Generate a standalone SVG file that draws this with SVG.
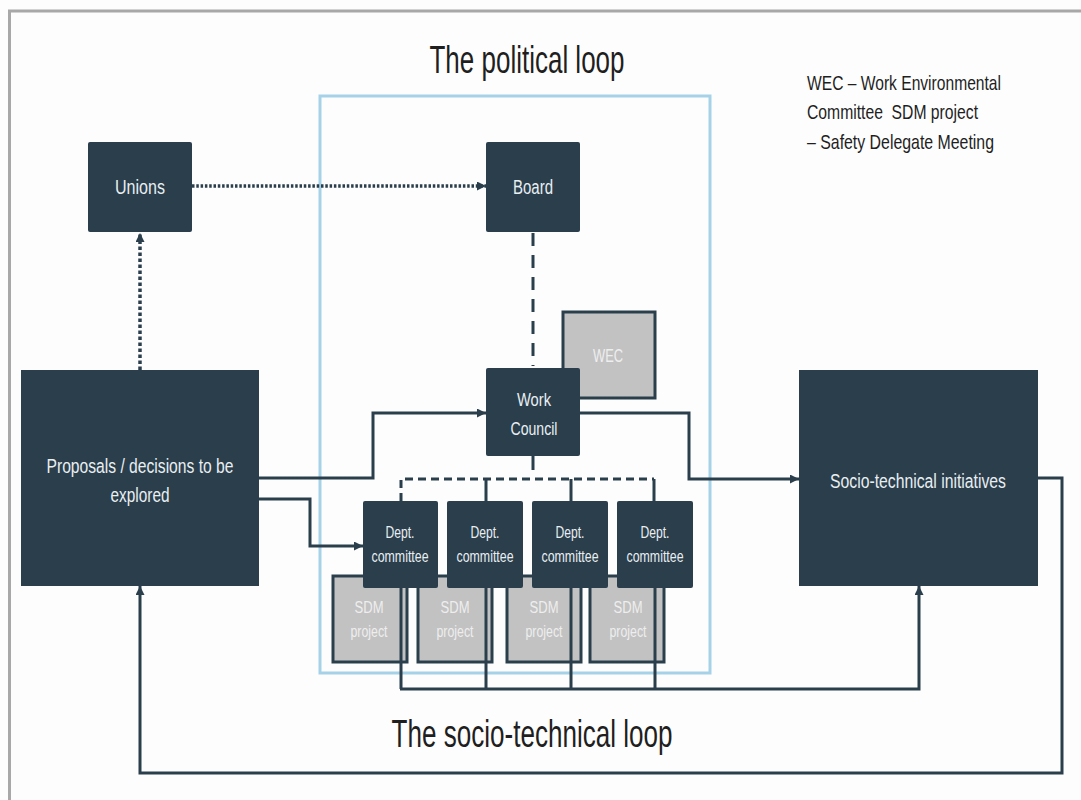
<svg xmlns="http://www.w3.org/2000/svg" width="1081" height="800" viewBox="0 0 1081 800">
  <defs>
    <style>
      .box { fill: #2a3e4c; }
      .sub { fill: #c2c2c2; stroke: #2a3e4c; stroke-width: 3; }
      .lbl { font-family: "Liberation Sans Narrow", "Liberation Sans", Arial, sans-serif; fill: #e9eef1; text-anchor: middle; }
      .lblg { font-family: "Liberation Sans Narrow", "Liberation Sans", Arial, sans-serif; fill: #eeeeee; text-anchor: middle; }
      .title { font-family: "Liberation Sans Narrow", "Liberation Sans", Arial, sans-serif; fill: #1f1f1f; }
      .ln { fill: none; stroke: #2a3e4c; stroke-width: 3; }
      .dot { fill: none; stroke: #2a3e4c; stroke-width: 3.5; stroke-dasharray: 2.5 1.8; }
      .dotv { fill: none; stroke: #2a3e4c; stroke-width: 3.5; stroke-dasharray: 3.5 2.5; }
      .dash { fill: none; stroke: #2a3e4c; stroke-width: 3; stroke-dasharray: 13 9; }
      .dash2 { fill: none; stroke: #2a3e4c; stroke-width: 3; stroke-dasharray: 8 5; }
    </style>
    <marker id="arr" viewBox="0 0 10 10" refX="10" refY="5" markerWidth="9" markerHeight="9" markerUnits="userSpaceOnUse" orient="auto">
      <path d="M0,0 L10,5 L0,10 z" fill="#2a3e4c"/>
    </marker>
  </defs>

  <!-- page -->
  <rect x="0" y="0" width="1081" height="800" fill="#fdfdfd"/>
  <line x1="8" y1="11" x2="1081" y2="11" stroke="#a8a8a8" stroke-width="3"/>
  <line x1="9.5" y1="10" x2="9.5" y2="800" stroke="#a8a8a8" stroke-width="3"/>

  <!-- political loop frame -->
  <rect x="320" y="96" width="390" height="577" fill="none" stroke="#a5d2e6" stroke-width="3"/>

  <!-- titles and legend -->
  <text class="title" x="527" y="73" font-size="39" text-anchor="middle" textLength="195" lengthAdjust="spacingAndGlyphs">The political loop</text>
  <text class="title" x="532" y="747" font-size="39" text-anchor="middle" textLength="281" lengthAdjust="spacingAndGlyphs">The socio-technical loop</text>
  <g id="legend" class="title" font-size="21">
    <text x="807" y="90" textLength="194" lengthAdjust="spacingAndGlyphs">WEC – Work Environmental</text>
    <text x="807" y="119" textLength="171" lengthAdjust="spacingAndGlyphs">Committee&#160; SDM project</text>
    <text x="807" y="149" textLength="187" lengthAdjust="spacingAndGlyphs">– Safety Delegate Meeting</text>
  </g>

  <!-- SDM project boxes (behind the department committees) -->
  <g id="sdm1"><rect class="sub" x="333" y="576" width="74" height="86"/>
    <text class="lblg" x="369" y="613" font-size="16" textLength="29" lengthAdjust="spacingAndGlyphs">SDM</text>
    <text class="lblg" x="369" y="637" font-size="16" textLength="37" lengthAdjust="spacingAndGlyphs">project</text></g>
  <g id="sdm2"><rect class="sub" x="418" y="576" width="74" height="86"/>
    <text class="lblg" x="455" y="613" font-size="16" textLength="29" lengthAdjust="spacingAndGlyphs">SDM</text>
    <text class="lblg" x="455" y="637" font-size="16" textLength="37" lengthAdjust="spacingAndGlyphs">project</text></g>
  <g id="sdm3"><rect class="sub" x="507" y="576" width="74" height="86"/>
    <text class="lblg" x="544" y="613" font-size="16" textLength="29" lengthAdjust="spacingAndGlyphs">SDM</text>
    <text class="lblg" x="544" y="637" font-size="16" textLength="37" lengthAdjust="spacingAndGlyphs">project</text></g>
  <g id="sdm4"><rect class="sub" x="590" y="576" width="74" height="86"/>
    <text class="lblg" x="628" y="613" font-size="16" textLength="29" lengthAdjust="spacingAndGlyphs">SDM</text>
    <text class="lblg" x="628" y="637" font-size="16" textLength="37" lengthAdjust="spacingAndGlyphs">project</text></g>

  <!-- WEC (behind the work council) -->
  <g id="wec"><rect class="sub" x="563" y="312" width="92" height="86"/>
    <text class="lblg" x="608" y="362" font-size="18" textLength="30" lengthAdjust="spacingAndGlyphs">WEC</text></g>

  <!-- connectors -->
  <g id="connectors">
    <path class="dot" d="M192,186 H486" marker-end="url(#arr)"/>
    <path class="dotv" d="M140,370 V233" marker-end="url(#arr)"/>
    <path class="dash" d="M533,233 V366"/>
    <path class="ln" d="M259,478 H373 V413 H486" marker-end="url(#arr)"/>
    <path class="ln" d="M259,499 H310 V546 H363" marker-end="url(#arr)"/>
    <path class="ln" d="M580,413 H689 V479 H799" marker-end="url(#arr)"/>
    <path class="ln" d="M533,456 V470"/>
    <path class="dash2" d="M401,501 V479 H654"/>
    <path class="ln" d="M486,479 V501 M571,479 V501 M654,479 V501"/>
    <path class="ln" d="M401,588 V689 M486,588 V689 M571,588 V689 M655,588 V689"/>
    <path class="ln" stroke-width="4" d="M400,689 H919 V586" marker-end="url(#arr)"/>
    <path class="ln" d="M1038,478 H1062 V773 H140 V586" marker-end="url(#arr)"/>
  </g>

  <!-- main nodes -->
  <g id="unions"><rect class="box" x="88" y="142" width="104" height="90" rx="2"/>
    <text class="lbl" x="140" y="194" font-size="20" textLength="50" lengthAdjust="spacingAndGlyphs">Unions</text></g>
  <g id="board"><rect class="box" x="486" y="142" width="94" height="90" rx="2"/>
    <text class="lbl" x="533" y="194" font-size="20" textLength="40" lengthAdjust="spacingAndGlyphs">Board</text></g>
  <g id="work-council"><rect class="box" x="486" y="368" width="94" height="88" rx="2"/>
    <text class="lbl" x="534" y="406" font-size="19" textLength="34" lengthAdjust="spacingAndGlyphs">Work</text>
    <text class="lbl" x="534" y="435" font-size="19" textLength="47" lengthAdjust="spacingAndGlyphs">Council</text></g>
  <g id="proposals"><rect class="box" x="21" y="370" width="238" height="216"/>
    <text class="lbl" x="140" y="473" font-size="20" textLength="187" lengthAdjust="spacingAndGlyphs">Proposals / decisions to be</text>
    <text class="lbl" x="140" y="502" font-size="20" textLength="59" lengthAdjust="spacingAndGlyphs">explored</text></g>
  <g id="socio-technical"><rect class="box" x="799" y="370" width="239" height="216"/>
    <text class="lbl" x="918" y="488" font-size="20" textLength="176" lengthAdjust="spacingAndGlyphs">Socio-technical initiatives</text></g>

  <!-- department committees -->
  <g id="dept1"><rect class="box" x="363" y="501" width="75" height="87" rx="2"/>
    <text class="lbl" x="400" y="538" font-size="16" textLength="29" lengthAdjust="spacingAndGlyphs">Dept.</text>
    <text class="lbl" x="400" y="562" font-size="16" textLength="57" lengthAdjust="spacingAndGlyphs">committee</text></g>
  <g id="dept2"><rect class="box" x="447" y="501" width="76" height="87" rx="2"/>
    <text class="lbl" x="485" y="538" font-size="16" textLength="29" lengthAdjust="spacingAndGlyphs">Dept.</text>
    <text class="lbl" x="485" y="562" font-size="16" textLength="57" lengthAdjust="spacingAndGlyphs">committee</text></g>
  <g id="dept3"><rect class="box" x="532" y="501" width="76" height="87" rx="2"/>
    <text class="lbl" x="570" y="538" font-size="16" textLength="29" lengthAdjust="spacingAndGlyphs">Dept.</text>
    <text class="lbl" x="570" y="562" font-size="16" textLength="57" lengthAdjust="spacingAndGlyphs">committee</text></g>
  <g id="dept4"><rect class="box" x="617" y="501" width="76" height="87" rx="2"/>
    <text class="lbl" x="655" y="538" font-size="16" textLength="29" lengthAdjust="spacingAndGlyphs">Dept.</text>
    <text class="lbl" x="655" y="562" font-size="16" textLength="57" lengthAdjust="spacingAndGlyphs">committee</text></g>
</svg>
